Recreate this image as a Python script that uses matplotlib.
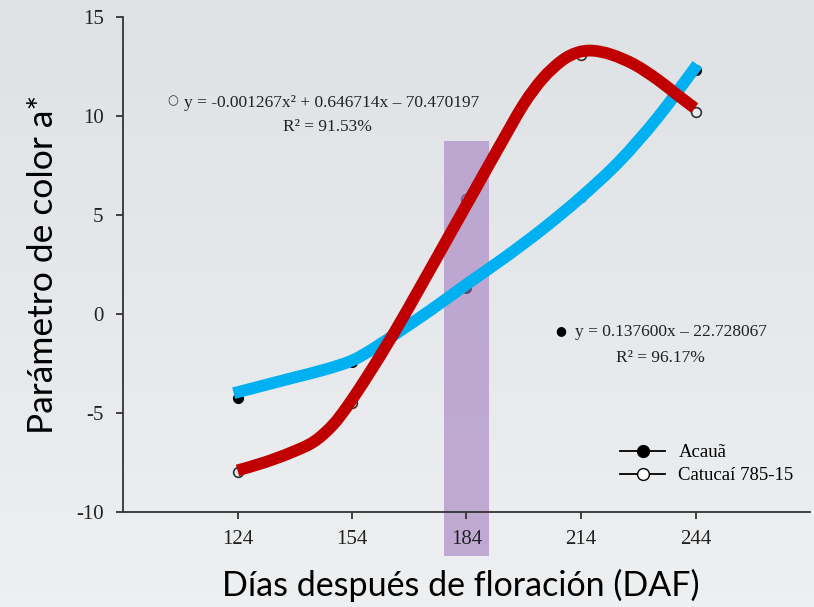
import matplotlib
matplotlib.use("Agg")
import numpy as np
import matplotlib.pyplot as plt
from matplotlib.lines import Line2D
from matplotlib.path import Path
from matplotlib.patches import PathPatch
from matplotlib.colors import LinearSegmentedColormap

plt.rcParams['axes.unicode_minus'] = False

# ---- data ----
days = [124, 154, 184, 214, 244]
acaua = [-4.25, -2.4, 1.3, 5.9, 12.3]
catucai = [-8.0, -4.5, 5.8, 13.1, 10.2]

# highlighted trend strokes
blue_x = [123, 131, 139, 147, 154, 160, 167, 175, 184, 194, 204, 214, 224, 234, 244.5]
blue_y = [-4.0, -3.6, -3.2, -2.8, -2.35, -1.7, -0.8, 0.25, 1.5, 2.85, 4.3, 5.9,
          7.7, 9.9, 12.6]
red_x = [124, 131, 138, 144, 149, 153, 158, 165, 172, 179, 186, 193, 199, 204,
         209, 213, 217, 222, 228, 234, 239, 243.8]
red_y = [-7.9, -7.5, -7.0, -6.45, -5.6, -4.6, -3.15, -0.96, 1.4, 3.8, 6.2, 8.6,
         10.6, 11.9, 12.8, 13.2, 13.3, 13.1, 12.6, 11.85, 11.1, 10.4]

band_x = [178.2, 190.0]
band_y = [-12.2, 8.75]

xticks = [124, 154, 184, 214, 244]
yticks = [-10, -5, 0, 5, 10, 15]

eq1 = "y = -0.001267x\u00b2 + 0.646714x \u2013 70.470197"
r1 = "R\u00b2 = 91.53%"
eq2 = "y = 0.137600x \u2013 22.728067"
r2 = "R\u00b2 = 96.17%"

bg = "#e7e9ec"
serif = ["Liberation Serif", "DejaVu Serif"]


def smooth_path(xs, ys):
    """Bezier path through the given points (Catmull-Rom tangents)."""
    n = len(xs)
    verts = [(xs[0], ys[0])]
    codes = [Path.MOVETO]
    for i in range(n - 1):
        x0, y0 = xs[max(i - 1, 0)], ys[max(i - 1, 0)]
        x1, y1 = xs[i], ys[i]
        x2, y2 = xs[i + 1], ys[i + 1]
        x3, y3 = xs[min(i + 2, n - 1)], ys[min(i + 2, n - 1)]
        c1 = (x1 + (x2 - x0) / 6.0, y1 + (y2 - y0) / 6.0)
        c2 = (x2 - (x3 - x1) / 6.0, y2 - (y3 - y1) / 6.0)
        verts += [c1, c2, (x2, y2)]
        codes += [Path.CURVE4] * 3
    return Path(verts, codes)


fig = plt.figure(figsize=(8.14, 6.07), dpi=100, facecolor=bg)

# subtle slide-like background gradient
bgax = fig.add_axes([0, 0, 1, 1], zorder=-10)
bgax.axis('off')
cmap = LinearSegmentedColormap.from_list('bg', ['#dfe2e5', '#edeff1'])
bgax.imshow(np.linspace(0, 1, 64).reshape(-1, 1), aspect='auto', cmap=cmap,
            extent=[0, 1, 0, 1], origin='upper')

ax = fig.add_axes([123/814, 95/607, 687/814, 495/607])
ax.patch.set_alpha(0)

ax.set_xlim(94, 274)
ax.set_ylim(-10, 15)

# data markers
ax.plot(days, acaua, 'o', color='black', ms=7, zorder=2)
ax.plot(days, catucai, 'o', mfc=bg, mec='#333333', mew=1.2, ms=7, zorder=2)

# purple band
ax.fill_between(band_x, band_y[0], band_y[1], color='#a37dc1', alpha=0.6,
                lw=0, zorder=3, clip_on=False)

# trend strokes
ax.add_patch(PathPatch(smooth_path(blue_x, blue_y), fill=False, edgecolor='#00b0f0',
                       lw=8.5, capstyle='butt', joinstyle='round', zorder=4))
ax.add_patch(PathPatch(smooth_path(red_x, red_y), fill=False, edgecolor='#c00000',
                       lw=8.5, capstyle='butt', joinstyle='round', zorder=5))

# spines and ticks
for s in ['top', 'right']:
    ax.spines[s].set_visible(False)
for s in ['left', 'bottom']:
    ax.spines[s].set_color('#333333')
    ax.spines[s].set_linewidth(1.3)
    ax.spines[s].set_zorder(6)
ax.xaxis.set_zorder(6)
ax.yaxis.set_zorder(6)
ax.set_xticks(xticks)
ax.set_yticks(yticks)
ax.tick_params(direction='out', length=5, width=1.3, color='#333333',
               labelsize=15, labelcolor='#222222')
ax.tick_params(axis='y', pad=9)
ax.tick_params(axis='x', pad=8)
for lab in ax.get_xticklabels() + ax.get_yticklabels():
    lab.set_family(serif)

ax.set_xlabel("Días después de floración (DAF)", fontsize=24.5, family="Lato",
              color='black')
ax.xaxis.set_label_coords(0.492, -0.115)
ax.set_ylabel("Parámetro de color a*", fontsize=25.5, family="Lato",
              labelpad=12, color='black')

# equations
tk = dict(transform=ax.transAxes, family=serif, fontsize=12.5, color='#222222',
          ha='center', va='center', zorder=7)
ax.text(0.304, 0.826, eq1, **tk)
ax.text(0.297, 0.778, r1, **tk)
ax.text(0.798, 0.364, eq2, **tk)
ax.text(0.782, 0.311, r2, **tk)
ax.text(0.0728, 0.830, "\u25cb", transform=ax.transAxes, family=["DejaVu Sans"],
        fontsize=9, ha='center', va='center', color='#333333')
ax.text(0.6376, 0.366, "\u25cf", transform=ax.transAxes, family=["DejaVu Sans"],
        fontsize=9, ha='center', va='center', color='black')

# legend
h1 = Line2D([], [], color='black', lw=1.3, marker='o', ms=8.5, mfc='black', mec='black')
h2 = Line2D([], [], color='black', lw=1.3, marker='o', ms=8.5, mfc='white', mec='black')
leg = ax.legend([h1, h2], ["Acauã", "Catucaí 785-15"], loc='upper left',
                bbox_to_anchor=(0.713, 0.152), frameon=False,
                prop={'family': serif, 'size': 13.5}, handlelength=2.4,
                handletextpad=0.7, labelspacing=0.3, borderaxespad=0)

fig.savefig("out.png", dpi=100, facecolor=bg)
